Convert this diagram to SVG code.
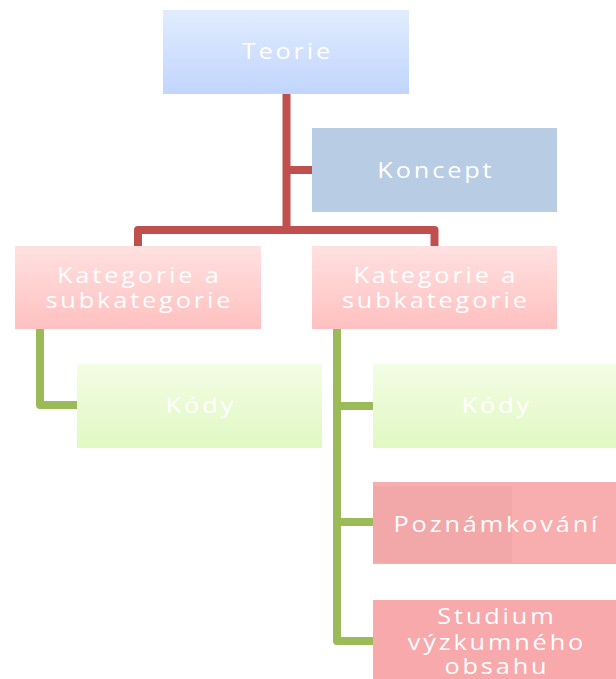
<svg xmlns="http://www.w3.org/2000/svg" width="616" height="679" viewBox="0 0 616 679">
<defs>
<linearGradient id="gBlue" x1="0" y1="0" x2="0" y2="1"><stop offset="0" stop-color="#E1ECFE"/><stop offset="1" stop-color="#C1D5FD"/></linearGradient>
<linearGradient id="gPink" x1="0" y1="0" x2="0" y2="1"><stop offset="0" stop-color="#FFE1E1"/><stop offset="1" stop-color="#FFC0C0"/></linearGradient>
<linearGradient id="gGreen" x1="0" y1="0" x2="0" y2="1"><stop offset="0" stop-color="#F3FDE4"/><stop offset="1" stop-color="#E1F8C3"/></linearGradient>
</defs>
<style>
.t{font-family:"Open Sans","Noto Sans",sans-serif;font-size:22px;fill:#FFFFFF;text-anchor:middle;letter-spacing:2.5px}
.red{fill:none;stroke:#C0504D;stroke-width:8;stroke-linejoin:round}
.grn{fill:none;stroke:#9BBB59;stroke-width:8;stroke-linejoin:round}
</style>
<g id="connectors">
<path class="red" d="M286.5 94 V230 M286.5 170 H312 M138 247 V230 H434.5 V247"/>
<path class="grn" d="M40 329 V405 H77"/>
<path class="grn" d="M337 329 V641 H373 M337 406 H373 M337 522 H373"/>
</g>
<g id="teorie"><rect x="163" y="10" width="246" height="84" fill="url(#gBlue)"/><text class="t" transform="translate(286 0) scale(1.15 1)" x="1.2" y="59">Teorie</text></g>
<g id="koncept"><rect x="312" y="128" width="245" height="84" fill="#B8CCE4"/><text class="t" transform="translate(434.5 0) scale(1.15 1)" x="1.2" y="178">Koncept</text></g>
<g id="kat1"><rect x="15" y="246" width="246" height="83" fill="url(#gPink)"/><text class="t" transform="translate(138 0) scale(1.15 1)" x="1.2" y="283">Kategorie a</text><text class="t" transform="translate(138 0) scale(1.15 1)" x="1.2" y="308">subkategorie</text></g>
<g id="kat2"><rect x="312" y="246" width="245" height="83" fill="url(#gPink)"/><text class="t" transform="translate(434.5 0) scale(1.15 1)" x="1.2" y="283">Kategorie a</text><text class="t" transform="translate(434.5 0) scale(1.15 1)" x="1.2" y="308">subkategorie</text></g>
<g id="kody1"><rect x="77" y="364" width="245" height="84" fill="url(#gGreen)"/><text class="t" transform="translate(199.5 0) scale(1.15 1)" x="1.2" y="413">Kódy</text></g>
<g id="kody2"><rect x="373" y="364" width="245" height="84" fill="url(#gGreen)"/><text class="t" transform="translate(495.5 0) scale(1.15 1)" x="1.2" y="413">Kódy</text></g>
<g id="poznamkovani"><rect x="373" y="482" width="245" height="82" fill="#F8AEAF"/><rect x="373" y="486" width="139" height="77" fill="#F2A7A8"/><text class="t" transform="translate(495.5 0) scale(1.15 1)" x="1.2" y="532">Poznámkování</text></g>
<g id="studium"><rect x="373" y="600" width="245" height="84" fill="#F8A9AC"/><text class="t" transform="translate(495.5 0) scale(1.15 1)" x="1.2" y="624">Studium</text><text class="t" transform="translate(495.5 0) scale(1.15 1)" x="1.2" y="650">výzkumného</text><text class="t" transform="translate(495.5 0) scale(1.15 1)" x="1.2" y="674">obsahu</text></g>
</svg>
